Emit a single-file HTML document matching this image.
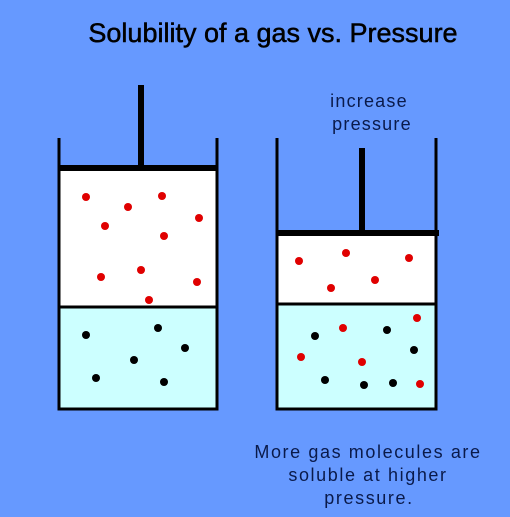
<!DOCTYPE html>
<html><head><meta charset="utf-8"><style>
html,body{margin:0;padding:0;background:#6699ff;}
svg{display:block;}
text{font-family:"Liberation Sans",sans-serif;}
</style></head><body>
<svg width="510" height="517" viewBox="0 0 510 517">
<rect width="510" height="517" fill="#6699ff"/>
<text x="273" y="42" font-size="27" text-anchor="middle" fill="#000" stroke="#000" stroke-width="0.5">Solubility of a gas vs. Pressure</text>

<g>
<rect x="59" y="169" width="158" height="138" fill="#fff"/>
<rect x="59" y="307" width="158" height="101" fill="#ccffff"/>
<line x1="59" y1="138" x2="59" y2="409" stroke="#000" stroke-width="3"/>
<line x1="217" y1="138" x2="217" y2="409" stroke="#000" stroke-width="3"/>
<line x1="57.5" y1="409" x2="218.5" y2="409" stroke="#000" stroke-width="3"/>
<line x1="59" y1="307" x2="217" y2="307" stroke="#000" stroke-width="3"/>
<rect x="58" y="165" width="160" height="6" fill="#000"/>
<rect x="138" y="85" width="6" height="82" fill="#000"/>
<g fill="#e00000">
<circle cx="86" cy="197" r="4"/><circle cx="128" cy="207" r="4"/><circle cx="162" cy="196" r="4"/><circle cx="105" cy="226" r="4"/><circle cx="199" cy="218" r="4"/><circle cx="164" cy="236" r="4"/><circle cx="101" cy="277" r="4"/><circle cx="141" cy="270" r="4"/><circle cx="197" cy="282" r="4"/><circle cx="149" cy="300" r="4"/>
</g>
<g fill="#000">
<circle cx="86" cy="335" r="4"/><circle cx="158" cy="328" r="4"/><circle cx="185" cy="348" r="4"/><circle cx="134" cy="360" r="4"/><circle cx="96" cy="378" r="4"/><circle cx="164" cy="382" r="4"/>
</g>
</g>

<g>
<rect x="277" y="234" width="159" height="70" fill="#fff"/>
<rect x="277" y="304" width="159" height="104" fill="#ccffff"/>
<line x1="277" y1="138" x2="277" y2="409" stroke="#000" stroke-width="3"/>
<line x1="436" y1="138" x2="436" y2="409" stroke="#000" stroke-width="3"/>
<line x1="275.5" y1="409" x2="437.5" y2="409" stroke="#000" stroke-width="3"/>
<line x1="277" y1="304" x2="436" y2="304" stroke="#000" stroke-width="3"/>
<rect x="276" y="230" width="163" height="6" fill="#000"/>
<rect x="359" y="148" width="6" height="84" fill="#000"/>
<g fill="#e00000">
<circle cx="299" cy="261" r="4"/><circle cx="346" cy="253" r="4"/><circle cx="409" cy="258" r="4"/><circle cx="331" cy="288" r="4"/><circle cx="375" cy="280" r="4"/>
<circle cx="417" cy="318" r="4"/><circle cx="343" cy="328" r="4"/><circle cx="301" cy="357" r="4"/><circle cx="362" cy="362" r="4"/><circle cx="420" cy="384" r="4"/>
</g>
<g fill="#000">
<circle cx="315" cy="336" r="4"/><circle cx="387" cy="330" r="4"/><circle cx="414" cy="350" r="4"/><circle cx="325" cy="380" r="4"/><circle cx="364" cy="385" r="4"/><circle cx="393" cy="383" r="4"/>
</g>
</g>

<g fill="#0a1a4a" font-size="18" letter-spacing="1.2" text-anchor="middle">
<text x="369" y="107">increase</text>
<text x="372" y="130">pressure</text>
</g>
<g fill="#0a1a4a" font-size="18" letter-spacing="1.6" text-anchor="middle">
<text x="368" y="458">More gas molecules are</text>
<text x="368" y="481">soluble at higher</text>
<text x="369" y="504">pressure.</text>
</g>
</svg>
</body></html>
